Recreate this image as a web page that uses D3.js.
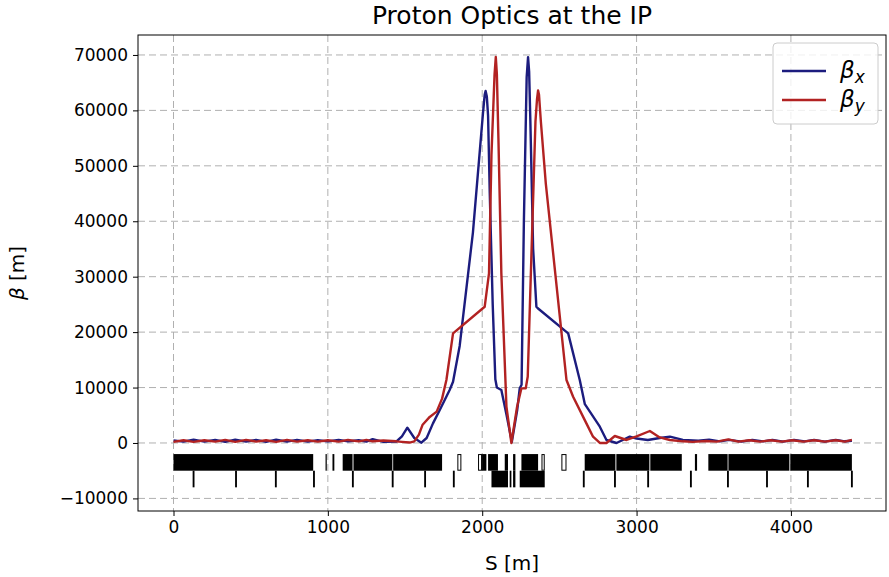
<!DOCTYPE html>
<html>
<head>
  <title> Proton Optics at the IP </title>
  <meta charset='utf-8'/>
  <style>
body { margin: 0; background: #fff; }
text { font-family: "DejaVu Sans", sans-serif; fill: #000; }
.grid line { stroke: #b0b0b0; stroke-dasharray: 7,4; stroke-width: 1; }
.axis text { font-size: 17px; }
.axis path, .axis line { stroke: #000; }
</style>
  <script src="https://d3js.org/d3.v7.min.js" charset="utf-8"></script>
</head>
<body>
<svg width="889" height="577"></svg>
<script>

// beta_x samples (S in m, beta in m)
var sX = [0, 65, 130, 200, 270, 335, 400, 470, 535, 600, 665, 735, 800, 870, 935, 1000, 1070, 1130, 1200, 1250, 1290, 1360, 1443, 1480, 1515, 1560, 1606, 1640, 1681, 1725, 1789, 1811, 1854, 1940, 2005, 2016, 2022, 2030, 2038, 2049, 2068, 2085, 2095, 2124, 2158, 2192, 2227, 2243, 2255, 2270, 2288, 2297, 2304, 2312, 2330, 2351, 2360, 2557, 2632, 2665, 2762, 2805, 2870, 2956, 3000, 3073, 3150, 3216, 3300, 3400, 3470, 3540, 3600, 3680, 3750, 3820, 3880, 3950, 4020, 4090, 4150, 4220, 4290, 4350, 4395];
var betaX = [450, 250, 600, 250, 550, 200, 600, 250, 550, 200, 600, 250, 550, 250, 500, 300, 550, 300, 500, 250, 700, 200, 250, 1200, 2760, 900, 50, 900, 3540, 5950, 9550, 11050, 17500, 38000, 59500, 62800, 63500, 62500, 59000, 45000, 25000, 11500, 10000, 9550, 5000, 200, 6000, 9860, 10500, 40000, 66000, 69600, 67000, 58000, 35000, 24570, 24300, 19770, 11360, 7000, 2940, 540, 0, 1140, 800, 540, 900, 1140, 550, 400, 600, 300, 550, 250, 550, 300, 550, 250, 550, 300, 550, 250, 550, 300, 400];

// beta_y samples
var sY = [0, 65, 130, 200, 270, 335, 400, 470, 535, 600, 665, 735, 800, 870, 935, 1000, 1070, 1130, 1200, 1250, 1290, 1360, 1443, 1480, 1530, 1560, 1590, 1614, 1660, 1705, 1740, 1768, 1811, 2016, 2044, 2060, 2080, 2088, 2095, 2105, 2124, 2157, 2189, 2226, 2254, 2282, 2295, 2320, 2345, 2355, 2362, 2368, 2380, 2412, 2546, 2589, 2675, 2718, 2762, 2805, 2859, 2935, 3000, 3086, 3150, 3216, 3300, 3364, 3450, 3520, 3594, 3660, 3730, 3800, 3870, 3940, 4010, 4080, 4150, 4220, 4290, 4350, 4395];
var betaY = [200, 500, 200, 500, 250, 550, 200, 550, 250, 500, 200, 550, 250, 500, 250, 500, 250, 550, 300, 550, 300, 450, 300, 200, 80, 300, 1500, 3300, 4700, 5650, 8000, 11360, 19770, 24570, 30600, 52000, 66500, 69630, 66500, 55000, 30600, 6550, 0, 6550, 9860, 9860, 12000, 35000, 58000, 62000, 63600, 62800, 58000, 46800, 11360, 8350, 3540, 1140, 0, 0, 1260, 540, 1200, 2160, 1000, 540, 300, 200, 350, 250, 660, 250, 500, 250, 500, 250, 500, 250, 500, 250, 500, 250, 550];

// lattice: [start, end] in S
var dipoles = [[0, 905], [985, 993], [1030, 1042], [1096, 1160], [1166, 1418], [1423, 1740], [1999, 2027], [2038, 2102], [2146, 2167], [2200, 2215], [2254, 2362], [2664, 2863], [2869, 3083], [3089, 3293], [3378, 3392], [3465, 3590], [3595, 3990], [3996, 4395]];
var quads = [[124, 136], [399, 411], [657, 669], [904, 916], [1156, 1168], [1414, 1426], [1624, 1636], [1810, 1822], [2060, 2167], [2178, 2189], [2200, 2215], [2243, 2405], [2652, 2664], [2854, 2866], [3069, 3081], [3346, 3358], [3586, 3598], [3839, 3851], [4104, 4116], [4389, 4401]];
var hollow = [[1839, 1865], [1973, 1999], [2384, 2405], [2513, 2546]];

var xTicks = [0, 1000, 2000, 3000, 4000];
var yTicks = [-10000, 0, 10000, 20000, 30000, 40000, 50000, 60000, 70000];

var svg = d3.select("svg"),
    pLeft = 138, pRight = 886, pTop = 35, pBottom = 511;

var x = d3.scaleLinear().domain([-230, 4616]).range([pLeft, pRight]);
var y = d3.scaleLinear().domain([-12270, 73600]).range([pBottom, pTop]);

// grid
svg.append("g").attr("class", "grid")
  .selectAll("line").data(xTicks).enter().append("line")
    .attr("x1", d => x(d)).attr("x2", d => x(d))
    .attr("y1", pTop).attr("y2", pBottom);
svg.append("g").attr("class", "grid")
  .selectAll("line").data(yTicks).enter().append("line")
    .attr("y1", d => y(d)).attr("y2", d => y(d))
    .attr("x1", pLeft).attr("x2", pRight);

// lattice
var lat = svg.append("g");
lat.selectAll(".dip").data(dipoles).enter().append("rect")
    .attr("x", d => x(d[0])).attr("width", d => Math.max(1, x(d[1]) - x(d[0])))
    .attr("y", y(-2000)).attr("height", y(-5000) - y(-2000))
    .attr("fill", "#000");
lat.selectAll(".quad").data(quads).enter().append("rect")
    .attr("x", d => x(d[0])).attr("width", d => Math.max(1.5, x(d[1]) - x(d[0])))
    .attr("y", y(-5000)).attr("height", y(-8000) - y(-5000))
    .attr("fill", "#000");
lat.selectAll(".hol").data(hollow).enter().append("rect")
    .attr("x", d => x(d[0]) + 0.5).attr("width", d => x(d[1]) - x(d[0]) - 1)
    .attr("y", y(-2000) + 0.5).attr("height", y(-5000) - y(-2000) - 1)
    .attr("fill", "#fff").attr("stroke", "#000").attr("stroke-width", 1);

// curves
var line = d3.line()
    .x(d => x(d[0])).y(d => y(d[1]));

svg.append("path")
    .datum(sX.map((s, i) => [s, betaX[i]]))
    .attr("d", line).attr("fill", "none").attr("stroke-linejoin", "round")
    .attr("stroke", "#1c1c7e").attr("stroke-width", 2.4);
svg.append("path")
    .datum(sY.map((s, i) => [s, betaY[i]]))
    .attr("d", line).attr("fill", "none").attr("stroke-linejoin", "round")
    .attr("stroke", "#b22222").attr("stroke-width", 2.4);

// frame
svg.append("rect").attr("x", pLeft).attr("y", pTop)
    .attr("width", pRight - pLeft).attr("height", pBottom - pTop)
    .attr("fill", "none").attr("stroke", "#000").attr("stroke-width", 1);

// axes
svg.append("g").attr("class", "axis")
    .attr("transform", "translate(0," + pBottom + ")")
    .call(d3.axisBottom(x).tickValues(xTicks).tickSize(5).tickPadding(5).tickFormat(d3.format("d")))
    .call(g => g.select(".domain").remove());
svg.append("g").attr("class", "axis")
    .attr("transform", "translate(" + pLeft + ",0)")
    .call(d3.axisLeft(y).tickValues(yTicks).tickSize(5).tickPadding(5).tickFormat(d => d < 0 ? "\u2212" + Math.abs(d) : d))
    .call(g => g.select(".domain").remove());

// labels
svg.append("text").attr("x", (pLeft + pRight) / 2).attr("y", 24)
    .attr("text-anchor", "middle").style("font-size", "25px")
    .text("Proton Optics at the IP");
svg.append("text").attr("x", (pLeft + pRight) / 2).attr("y", 570)
    .attr("text-anchor", "middle").style("font-size", "20px")
    .text("S [m]");
svg.append("text").attr("transform", "translate(24," + ((pTop + pBottom) / 2) + ") rotate(-90)")
    .attr("text-anchor", "middle").style("font-size", "20px")
    .html("<tspan font-style='italic'>β</tspan> [m]");

// legend
var leg = svg.append("g").attr("transform", "translate(773,43)");
leg.append("rect").attr("width", 105).attr("height", 81).attr("rx", 4)
    .attr("fill", "#fff").attr("fill-opacity", 0.8).attr("stroke", "#ccc");
[["x", "#1c1c7e"], ["y", "#b22222"]].forEach(function(d, i) {
  var cy = 28 + i * 29;
  leg.append("line").attr("x1", 9).attr("x2", 53).attr("y1", cy).attr("y2", cy)
      .attr("stroke", d[1]).attr("stroke-width", 2.4);
  var t = leg.append("text").attr("x", 67).attr("y", cy + 7).style("font-size", "23px");
  t.append("tspan").attr("font-style", "italic").text("β");
  t.append("tspan").attr("font-style", "italic").attr("dy", 5).style("font-size", "17px").text(d[0]);
});

</script>
</body>
</html>
